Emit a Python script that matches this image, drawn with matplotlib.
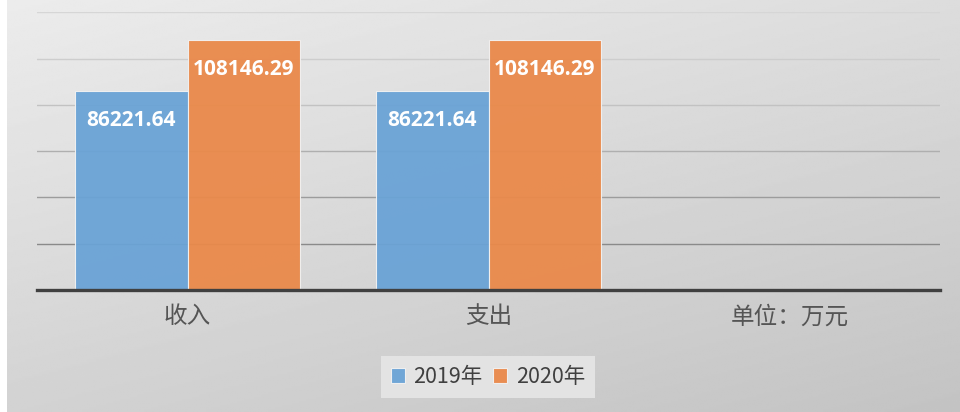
import numpy as np
import matplotlib
matplotlib.use("Agg")
import matplotlib.pyplot as plt

plt.rcParams['font.family'] = ['Noto Sans CJK SC', 'DejaVu Sans']

categories = ['收入', '支出', '单位：万元']
series_names = ['2019年', '2020年']
values_2019 = [86221.64, 86221.64, np.nan]
values_2020 = [108146.29, 108146.29, np.nan]
y_ticks = [0, 20000, 40000, 60000, 80000, 100000, 120000]

colors = ['#6aa3d6', '#ea894a']

fig = plt.figure(figsize=(9.6, 4.12), dpi=100)
fig.patch.set_facecolor('white')

# gradient background panel
bg = fig.add_axes([7 / 960, 0, 1 - 7 / 960, 1], zorder=-10)
yy, xx = np.mgrid[0:1:200j, 0:1:400j]
grad = 0.925 - 0.10 * yy - 0.06 * xx
bg.imshow(grad, cmap='gray', vmin=0, vmax=1, aspect='auto', extent=[0, 1, 1, 0])
bg.set_axis_off()

ax = fig.add_axes([37 / 960, 1 - 290 / 412, (940 - 37) / 960, (290 - 12.4) / 412])
ax.set_facecolor('none')

x = np.arange(len(categories))
w = 0.375
b1 = ax.bar(x - w / 2, values_2019, w, color=colors[0], edgecolor='#f2f2f2', linewidth=0.8,
            alpha=0.95, label=series_names[0], zorder=3)
b2 = ax.bar(x + w / 2, values_2020, w, color=colors[1], edgecolor='#f2f2f2', linewidth=0.8,
            alpha=0.95, label=series_names[1], zorder=3)

for xs, vals in ((x - w / 2, values_2019), (x + w / 2, values_2020)):
    for xi, v in zip(xs, vals):
        if np.isnan(v):
            continue
        ax.annotate(f'{v:.2f}', xy=(xi, v), xytext=(0, -21.5), textcoords='offset points',
                    ha='center', va='center', color='white', fontsize=15,
                    fontweight='bold', family=['Open Sans', 'DejaVu Sans'], zorder=5)

ax.set_xlim(-0.5, 2.5)
ax.set_ylim(0, 120000)
ax.set_yticks(y_ticks)
ax.set_yticklabels([])
ax.tick_params(axis='y', length=0)
ax.set_xticks(x)
ax.set_xticklabels(categories, fontsize=17, color='#555555', fontweight='light')
ax.tick_params(axis='x', length=0, pad=11)

ax.grid(axis='y', zorder=0)
ax.set_axisbelow(True)
grid_colors = ['#404040', '#8a8a8a', '#9c9c9c', '#afafaf', '#c2c2c2', '#cdcdcd', '#d6d6d6']
for gl, c in zip(ax.get_ygridlines(), grid_colors):
    gl.set_color(c)
    gl.set_linewidth(1.0)

for s in ['top', 'left', 'right']:
    ax.spines[s].set_visible(False)
ax.spines['bottom'].set_color('#404040')
ax.spines['bottom'].set_linewidth(2.4)
ax.spines['bottom'].set_zorder(6)

leg = fig.legend(handles=[b1, b2], labels=series_names, loc='center',
                 bbox_to_anchor=(488 / 960, 1 - 377 / 412), ncol=2, frameon=True,
                 fontsize=15.5, handlelength=0.65, handleheight=0.65, handletextpad=0.4,
                 columnspacing=0.5, borderpad=0.45, borderaxespad=0, fancybox=False,
                 facecolor='#e6e6e6', edgecolor='none', labelcolor='#404040')
leg.get_frame().set_alpha(0.9)

fig.savefig('out.png', dpi=100)
